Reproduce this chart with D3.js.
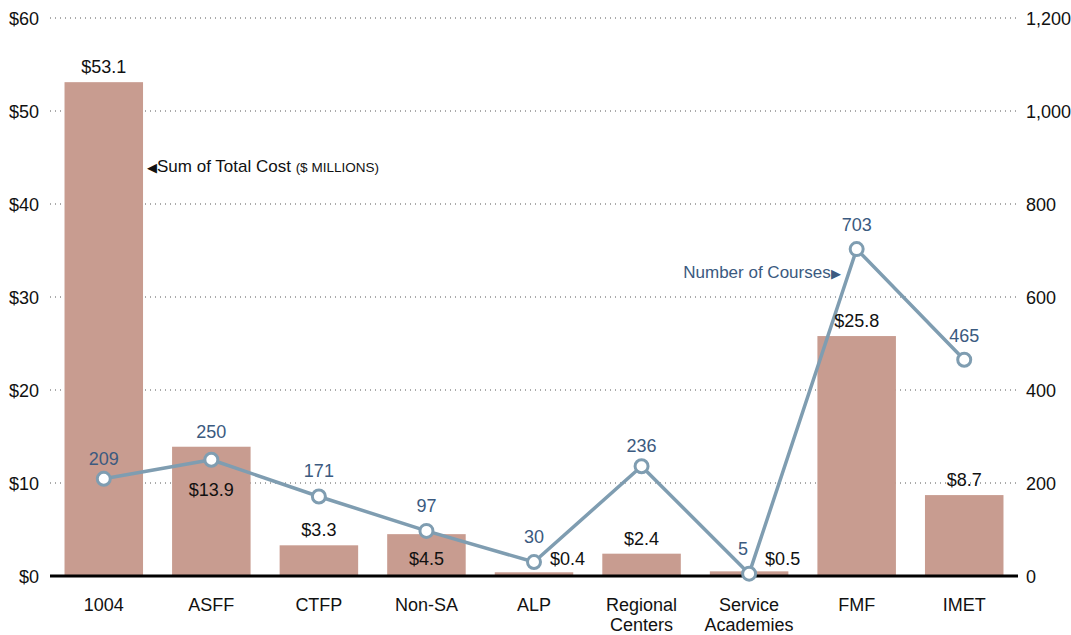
<!DOCTYPE html>
<html>
<head>
<meta charset="utf-8">
<script src="https://cdn.jsdelivr.net/npm/d3@7"></script>
<style>
  body { margin: 0; background: #fff; }
  svg text { font-family: "Liberation Sans", Arial, sans-serif; }
</style>
</head>
<body>
<svg width="1071" height="635"></svg>
<script>
// data
const categories = ['1004', 'ASFF', 'CTFP', 'Non-SA', 'ALP', 'Regional Centers', 'Service Academies', 'FMF', 'IMET'];
const totalCost = [53.1, 13.9, 3.3, 4.5, 0.4, 2.4, 0.5, 25.8, 8.7];
const courses = [209, 250, 171, 97, 30, 236, 5, 703, 465];
const costTicks = [0, 10, 20, 30, 40, 50, 60];
const courseTicks = [0, 200, 400, 600, 800, 1000, 1200];

// label placement (layout only, not data)
const costLabelPos = ['top', 'below-point', 'top', 'inside', 'right', 'top', 'right', 'top', 'top'];
const courseLabelGap = [14, 22, 19, 19, 19, 14, 0, 18, 18];

const colors = {
  bar: '#c89c90',
  line: '#7f9db1',
  courseText: '#3b5a80',
  text: '#111',
  grid: '#555',
};

const margin = { top: 18, right: 53, bottom: 59, left: 50 };
const width = 1071, height = 635;
const svg = d3.select('svg');

const x = d3.scaleBand()
  .domain(categories)
  .range([margin.left, width - margin.right])
  .paddingInner(0.27)
  .paddingOuter(0.135);

const yCost = d3.scaleLinear().domain([0, 60]).range([height - margin.bottom, margin.top]);
const yCourses = d3.scaleLinear().domain([0, 1200]).range([height - margin.bottom, margin.top]);

// gridlines
svg.append('g')
  .selectAll('line')
  .data(costTicks.filter(d => d > 0))
  .join('line')
  .attr('x1', margin.left)
  .attr('x2', width - margin.right)
  .attr('y1', d => yCost(d))
  .attr('y2', d => yCost(d))
  .attr('stroke', colors.grid)
  .attr('stroke-width', 1)
  .attr('stroke-dasharray', '1,4');

// left axis
const leftAxis = svg.append('g')
  .attr('transform', `translate(${margin.left - 8},0)`)
  .call(d3.axisLeft(yCost).tickValues(costTicks).tickSize(0).tickFormat(d => '$' + d));
leftAxis.select('.domain').remove();
leftAxis.selectAll('text').attr('font-size', 18).attr('fill', colors.text).attr('dy', '0.35em');

// right axis
const rightAxis = svg.append('g')
  .attr('transform', `translate(${width - margin.right + 5},0)`)
  .call(d3.axisRight(yCourses).tickValues(courseTicks).tickSize(0).tickFormat(d3.format(',')));
rightAxis.select('.domain').remove();
rightAxis.selectAll('text').attr('font-size', 18).attr('fill', colors.text).attr('dy', '0.35em');

// bars
svg.append('g')
  .selectAll('rect')
  .data(categories)
  .join('rect')
  .attr('x', d => x(d))
  .attr('width', x.bandwidth())
  .attr('y', (d, i) => yCost(totalCost[i]))
  .attr('height', (d, i) => yCost(0) - yCost(totalCost[i]))
  .attr('fill', colors.bar);

// baseline
svg.append('line')
  .attr('x1', margin.left)
  .attr('x2', width - margin.right)
  .attr('y1', yCost(0))
  .attr('y2', yCost(0))
  .attr('stroke', '#000')
  .attr('stroke-width', 3);

// category labels
const cx = d => x(d) + x.bandwidth() / 2;
svg.append('g')
  .selectAll('text')
  .data(categories)
  .join('text')
  .attr('x', cx)
  .attr('y', yCost(0) + 35)
  .attr('text-anchor', 'middle')
  .attr('font-size', 18)
  .attr('fill', colors.text)
  .each(function (d) {
    const words = d.split(' ');
    d3.select(this).selectAll('tspan')
      .data(words)
      .join('tspan')
      .attr('x', cx(d))
      .attr('dy', (w, i) => (i === 0 ? 0 : 20))
      .text(w => w);
  });

// line for courses
const line = d3.line()
  .x((d, i) => cx(categories[i]))
  .y(d => yCourses(d));

svg.append('path')
  .datum(courses)
  .attr('d', line)
  .attr('fill', 'none')
  .attr('stroke', colors.line)
  .attr('stroke-width', 3.5)
  .attr('stroke-linejoin', 'round');

svg.append('g')
  .selectAll('circle')
  .data(courses)
  .join('circle')
  .attr('cx', (d, i) => cx(categories[i]))
  .attr('cy', d => yCourses(d))
  .attr('r', 6.5)
  .attr('fill', '#fff')
  .attr('stroke', colors.line)
  .attr('stroke-width', 3);

// cost labels
svg.append('g')
  .selectAll('text')
  .data(totalCost)
  .join('text')
  .attr('font-size', 18)
  .attr('fill', colors.text)
  .each(function (v, i) {
    const t = d3.select(this);
    const px = cx(categories[i]);
    const pos = costLabelPos[i];
    if (pos === 'top') {
      t.attr('x', px).attr('y', yCost(v) - 9).attr('text-anchor', 'middle');
    } else if (pos === 'below-point') {
      t.attr('x', px).attr('y', yCourses(courses[i]) + 36).attr('text-anchor', 'middle');
    } else if (pos === 'inside') {
      t.attr('x', px).attr('y', yCost(0) - 11).attr('text-anchor', 'middle');
    } else {
      t.attr('x', px + 16).attr('y', yCost(0) - 11).attr('text-anchor', 'start');
    }
  })
  .text(v => '$' + v.toFixed(1));

// course labels
svg.append('g')
  .selectAll('text')
  .data(courses)
  .join('text')
  .attr('font-size', 18)
  .attr('fill', colors.courseText)
  .each(function (v, i) {
    const t = d3.select(this);
    const px = cx(categories[i]);
    if (courseLabelGap[i] === 0) {
      // tucked to the upper left of its point
      t.attr('x', px - 6).attr('y', yCourses(v) - 19).attr('text-anchor', 'middle');
    } else {
      t.attr('x', px).attr('y', yCourses(v) - courseLabelGap[i]).attr('text-anchor', 'middle');
    }
  })
  .text(v => d3.format(',')(v));

// series annotations
const costNote = svg.append('text')
  .attr('x', x(categories[0]) + x.bandwidth() + 4)
  .attr('y', 172)
  .attr('font-size', 17)
  .attr('fill', colors.text);
costNote.append('tspan').attr('font-size', 13).text('◀');
costNote.append('tspan').text('Sum of Total Cost ');
costNote.append('tspan').attr('font-size', 13.5).text('($ MILLIONS)');

const courseNote = svg.append('text')
  .attr('x', cx(categories[7]) - 16)
  .attr('y', 278)
  .attr('text-anchor', 'end')
  .attr('font-size', 17)
  .attr('fill', colors.courseText);
courseNote.append('tspan').text('Number of Courses');
courseNote.append('tspan').attr('font-size', 13).text('▶');
</script>
</body>
</html>
